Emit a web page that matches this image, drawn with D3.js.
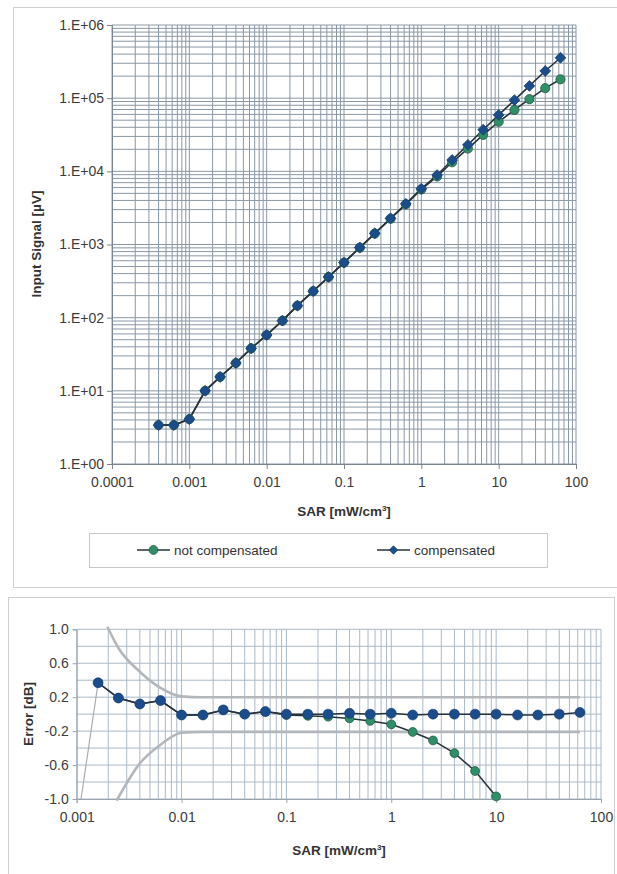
<!DOCTYPE html>
<html>
<head>
<meta charset="utf-8">
<script src="https://cdn.jsdelivr.net/npm/d3@7"></script>
<style>
  body { margin: 0; background: #fff; }
  svg text { font-family: "Liberation Sans", Arial, sans-serif; }
  .tick text { fill: #3c3c3c; }
</style>
</head>
<body>
<div class="render"></div>
<script>
// top chart: input signal vs SAR
var sar = [0.0004, 0.00063, 0.001, 0.0016, 0.0025, 0.004, 0.0063, 0.01, 0.016, 0.025, 0.04, 0.063, 0.1,
  0.16, 0.25, 0.4, 0.63, 1, 1.6, 2.5, 4, 6.3, 10, 16, 25, 40, 63];
var notCompensated = [3.4, 3.4, 4.1, 10, 15.5, 24, 38, 58, 91, 146, 230, 360, 565,
  905, 1410, 2250, 3540, 5650, 8500, 13300, 20500, 31500, 47600, 69000, 97000, 137000, 181000];
var compensated = [3.4, 3.4, 4.1, 10, 15.5, 24, 38, 58, 91, 146, 230, 360, 565,
  910, 1420, 2280, 3600, 5800, 8900, 14300, 23000, 37000, 59000, 94000, 147000, 235000, 357000];
var sarTicks = [0.0001, 0.001, 0.01, 0.1, 1, 10, 100];
var signalTicks = [1, 10, 100, 1e3, 1e4, 1e5, 1e6];

// bottom chart: error in dB
var errSar = [0.0016, 0.0025, 0.004, 0.0063, 0.01, 0.016, 0.025, 0.04, 0.063, 0.1, 0.16, 0.25,
  0.4, 0.63, 1, 1.6, 2.5, 4, 6.3, 10, 16, 25, 40, 63];
var errCompensated = [0.37, 0.19, 0.12, 0.16, -0.01, -0.01, 0.05, 0.0, 0.03, 0.0, 0.0, 0.0,
  0.01, 0.0, 0.01, -0.01, 0.0, 0.0, 0.0, 0.0, -0.01, -0.01, 0.0, 0.02];
var errNotCompensated = [0.37, 0.19, 0.12, 0.16, -0.01, -0.01, 0.05, 0.0, 0.03, -0.01, -0.02, -0.03,
  -0.05, -0.08, -0.12, -0.21, -0.31, -0.46, -0.67, -0.97];
var upperSar = [0.00196, 0.0025, 0.004, 0.0063, 0.01, 0.016, 63];
var upperErr = [1.03, 0.78, 0.5, 0.31, 0.21, 0.2, 0.2];
var lowerSar = [0.0024, 0.004, 0.0063, 0.01, 0.016, 63];
var lowerErr = [-1.02, -0.58, -0.36, -0.22, -0.21, -0.21];
var leadSar = [0.0011, 0.0016];
var leadErr = [-1.0, 0.37];
var errSarTicks = [0.001, 0.01, 0.1, 1, 10, 100];
var errTicks = [-1.0, -0.6, -0.2, 0.2, 0.6, 1.0];
var errGrid = [-1.0, -0.8, -0.6, -0.4, -0.2, 0.0, 0.2, 0.4, 0.6, 0.8, 1.0];

var blue = '#1b4d8c', green = '#2f8f68', lineCol = '#26333b';
// square diamond, half diagonal r
function diamond(r) { return 'M0,' + (-r) + 'L' + r + ',0L0,' + r + 'L' + (-r) + ',0Z'; }

var svg = d3.select('.render').append('svg').attr('width', 617).attr('height', 874);

// panel frames
svg.append('rect').attr('x', 13.5).attr('y', 7.5).attr('width', 640).attr('height', 580)
  .attr('fill', 'none').attr('stroke', '#cfcfcf');
svg.append('rect').attr('x', 8.5).attr('y', 597.5).attr('width', 606).attr('height', 300)
  .attr('fill', 'none').attr('stroke', '#cfcfcf');

// ---------- top chart ----------
var xT = d3.scaleLog().domain([1e-4, 100]).range([112, 576]);
var yT = d3.scaleLog().domain([1, 1e6]).range([464, 25]);

var gT = svg.append('g');
gT.selectAll('.vgrid').data(xT.ticks()).enter().append('line')
  .attr('x1', d => xT(d)).attr('x2', d => xT(d)).attr('y1', yT(1)).attr('y2', yT(1e6))
  .attr('stroke', '#8a98a6').attr('stroke-width', 1);
gT.selectAll('.hgrid').data(yT.ticks()).enter().append('line')
  .attr('x1', xT(1e-4)).attr('x2', xT(100)).attr('y1', d => yT(d)).attr('y2', d => yT(d))
  .attr('stroke', '#8a98a6').attr('stroke-width', 1);

var axT = gT.append('g').attr('transform', 'translate(0,' + yT(1) + ')')
  .call(d3.axisBottom(xT).tickValues(sarTicks).tickSize(5).tickPadding(8)
    .tickFormat(d => String(d)));
var ayT = gT.append('g').attr('transform', 'translate(' + xT(1e-4) + ',0)')
  .call(d3.axisLeft(yT).tickValues(signalTicks).tickSize(5).tickPadding(3)
    .tickFormat(d => '1.E+' + String(Math.round(Math.log10(d))).padStart(2, '0')));
[axT, ayT].forEach(function (a) {
  a.selectAll('path,line').attr('stroke', '#7a848e');
  a.selectAll('text').style('font-size', '14px');
});

var pts = sar.map((s, i) => ({ x: s, nc: notCompensated[i], c: compensated[i] }));
var lineNC = d3.line().x(d => xT(d.x)).y(d => yT(d.nc));
var lineC = d3.line().x(d => xT(d.x)).y(d => yT(d.c));
gT.append('path').datum(pts).attr('d', lineNC).attr('fill', 'none').attr('stroke', lineCol).attr('stroke-width', 1.6);
gT.append('path').datum(pts).attr('d', lineC).attr('fill', 'none').attr('stroke', lineCol).attr('stroke-width', 1.6);
gT.selectAll('.nc').data(pts).enter().append('circle')
  .attr('cx', d => xT(d.x)).attr('cy', d => yT(d.nc)).attr('r', 4.6)
  .attr('fill', green).attr('stroke', '#1f5a44').attr('stroke-width', 0.8);
gT.selectAll('.c').data(pts).enter().append('path')
  .attr('d', diamond(5.4))
  .attr('transform', d => 'translate(' + xT(d.x) + ',' + yT(d.c) + ')')
  .attr('fill', blue).attr('stroke', '#16406f').attr('stroke-width', 0.8)
  .attr('stroke-linejoin', 'round');

svg.append('text').attr('x', 344).attr('y', 516).attr('text-anchor', 'middle')
  .style('font-size', '13.5px').style('font-weight', 'bold').attr('fill', '#333')
  .html('SAR [mW/cm<tspan dy="-5" font-size="8px">3</tspan><tspan dy="5">]</tspan>');
svg.append('text').attr('transform', 'translate(41,244)rotate(-90)').attr('text-anchor', 'middle')
  .style('font-size', '13.5px').style('font-weight', 'bold').attr('fill', '#333')
  .text('Input Signal [\u00b5V]');

// legend
svg.append('rect').attr('x', 89.5).attr('y', 533.5).attr('width', 458).attr('height', 34)
  .attr('fill', '#fff').attr('stroke', '#c8c8c8');
var lg1 = svg.append('g').attr('transform', 'translate(137,550)');
lg1.append('line').attr('x1', 0).attr('x2', 33).attr('stroke', lineCol).attr('stroke-width', 1.6);
lg1.append('circle').attr('cx', 16.5).attr('r', 4.4).attr('fill', green).attr('stroke', '#1f5a44').attr('stroke-width', 0.8);
lg1.append('text').attr('x', 37).attr('y', 5).style('font-size', '13.5px').attr('fill', '#333').text('not compensated');
var lg2 = svg.append('g').attr('transform', 'translate(377,550)');
lg2.append('line').attr('x1', 0).attr('x2', 33).attr('stroke', lineCol).attr('stroke-width', 1.6);
lg2.append('path').attr('d', diamond(4.2)).attr('transform', 'translate(16.5,0)')
  .attr('fill', blue).attr('stroke', '#16406f').attr('stroke-width', 0.8);
lg2.append('text').attr('x', 37).attr('y', 5).style('font-size', '13.5px').attr('fill', '#333').text('compensated');

// ---------- bottom chart ----------
var xB = d3.scaleLog().domain([1e-3, 100]).range([76.7, 601]);
var yB = d3.scaleLinear().domain([-1, 1]).range([799, 629.3]);

var gB = svg.append('g');
gB.selectAll('.vgrid').data(xB.ticks()).enter().append('line')
  .attr('x1', d => xB(d)).attr('x2', d => xB(d)).attr('y1', yB(-1)).attr('y2', yB(1))
  .attr('stroke', '#aab8c6').attr('stroke-width', 1);
gB.selectAll('.hgrid').data(errGrid).enter().append('line')
  .attr('x1', xB(1e-3)).attr('x2', xB(100)).attr('y1', d => yB(d)).attr('y2', d => yB(d))
  .attr('stroke', '#aab8c6').attr('stroke-width', 1);

var axB = gB.append('g').attr('transform', 'translate(0,' + yB(-1) + ')')
  .call(d3.axisBottom(xB).tickValues(errSarTicks).tickSize(4).tickPadding(9)
    .tickFormat(d => String(d)));
var ayB = gB.append('g').attr('transform', 'translate(' + xB(1e-3) + ',0)')
  .call(d3.axisLeft(yB).tickValues(errTicks).tickSize(4).tickPadding(4)
    .tickFormat(d => d.toFixed(1)));
[axB, ayB].forEach(function (a) {
  a.selectAll('path,line').attr('stroke', '#9aa4ae');
  a.selectAll('text').style('font-size', '14px');
});

var bound = d3.line().x(d => xB(d[0])).y(d => yB(d[1])).curve(d3.curveMonotoneX);
gB.append('path').datum(upperSar.map((s, i) => [s, upperErr[i]])).attr('d', bound)
  .attr('fill', 'none').attr('stroke', '#b3b7bb').attr('stroke-width', 2.6);
gB.append('path').datum(lowerSar.map((s, i) => [s, lowerErr[i]])).attr('d', bound)
  .attr('fill', 'none').attr('stroke', '#b3b7bb').attr('stroke-width', 2.6);
gB.append('path').datum(leadSar.map((s, i) => [s, leadErr[i]])).attr('d', d3.line().x(d => xB(d[0])).y(d => yB(d[1])))
  .attr('fill', 'none').attr('stroke', '#a8acb0').attr('stroke-width', 1.2);

var ncPts = errNotCompensated.map((e, i) => [errSar[i], e]);
var cPts = errCompensated.map((e, i) => [errSar[i], e]);
var eLine = d3.line().x(d => xB(d[0])).y(d => yB(d[1]));
gB.append('path').datum(ncPts).attr('d', eLine).attr('fill', 'none').attr('stroke', lineCol).attr('stroke-width', 1.5);
gB.append('path').datum(cPts).attr('d', eLine).attr('fill', 'none').attr('stroke', lineCol).attr('stroke-width', 1.5);
gB.selectAll('.nc').data(ncPts).enter().append('circle')
  .attr('cx', d => xB(d[0])).attr('cy', d => yB(d[1])).attr('r', 4.4)
  .attr('fill', green).attr('stroke', '#1f5a44').attr('stroke-width', 0.8);
gB.selectAll('.c').data(cPts).enter().append('circle')
  .attr('cx', d => xB(d[0])).attr('cy', d => yB(d[1])).attr('r', 5)
  .attr('fill', blue).attr('stroke', '#16406f').attr('stroke-width', 0.6);

svg.append('text').attr('x', 339).attr('y', 855).attr('text-anchor', 'middle')
  .style('font-size', '13.5px').style('font-weight', 'bold').attr('fill', '#333')
  .html('SAR [mW/cm<tspan dy="-5" font-size="8px">3</tspan><tspan dy="5">]</tspan>');
svg.append('text').attr('transform', 'translate(33,714)rotate(-90)').attr('text-anchor', 'middle')
  .style('font-size', '13.5px').style('font-weight', 'bold').attr('fill', '#333')
  .text('Error [dB]');
</script>
</body>
</html>
